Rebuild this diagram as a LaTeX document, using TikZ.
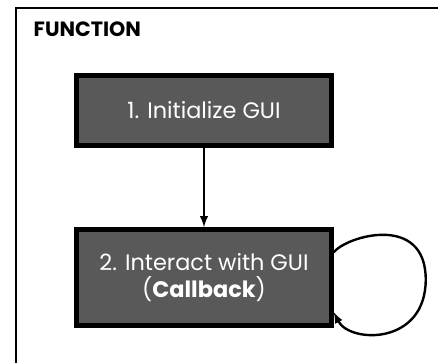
\documentclass[tikz,border=0pt]{standalone}
\usepackage{fontspec}
\setmainfont{Poppins}
\usepackage{xcolor}
\usetikzlibrary{arrows,calc}
\tikzset{>=latex}
\definecolor{boxgray}{HTML}{595959}
\tikzset{
	stepbox/.style={draw=black, fill=boxgray, line width=3.6pt, text=white, align=center,
		minimum width=191pt, font=\fontsize{16.8}{20}\selectfont},
	flow/.style={->, line width=1.8pt}
}

\begin{document}
\begin{tikzpicture}[x=0.75pt, y=0.75pt]
	\useasboundingbox (0,0) rectangle (438,-363);
	
	% Outer frame (runs off the page on the right and bottom)
	\draw[line width=1.5pt] (16,-380) -- (16,-8) -- (460,-8);
	\node[anchor=west, font=\bfseries\fontsize{15.5}{18}\selectfont] (title) at (29,-29) {FUNCTION};
	
	% Defining the two steps
	\node[stepbox, minimum height=52pt] (init) at (204,-110.5) {1. Initialize GUI}; % step 1
	\node[stepbox, minimum height=72pt] (cb) at (204,-277.5) {2. Interact with GUI\\(\textbf{Callback})}; % step 2
	
	% Drawing connectors
	\draw[flow] (init) -- (cb);
	\draw[flow] ([yshift=19pt]cb.east) .. controls ($(cb.east)+(14,42)$) and ($(cb.east)+(92,64)$) .. ($(cb.east)+(92,-2)$)
		.. controls ($(cb.east)+(92,-68)$) and ($(cb.east)+(16,-66)$) .. ([yshift=-26pt]cb.east);
\end{tikzpicture}
\end{document}
